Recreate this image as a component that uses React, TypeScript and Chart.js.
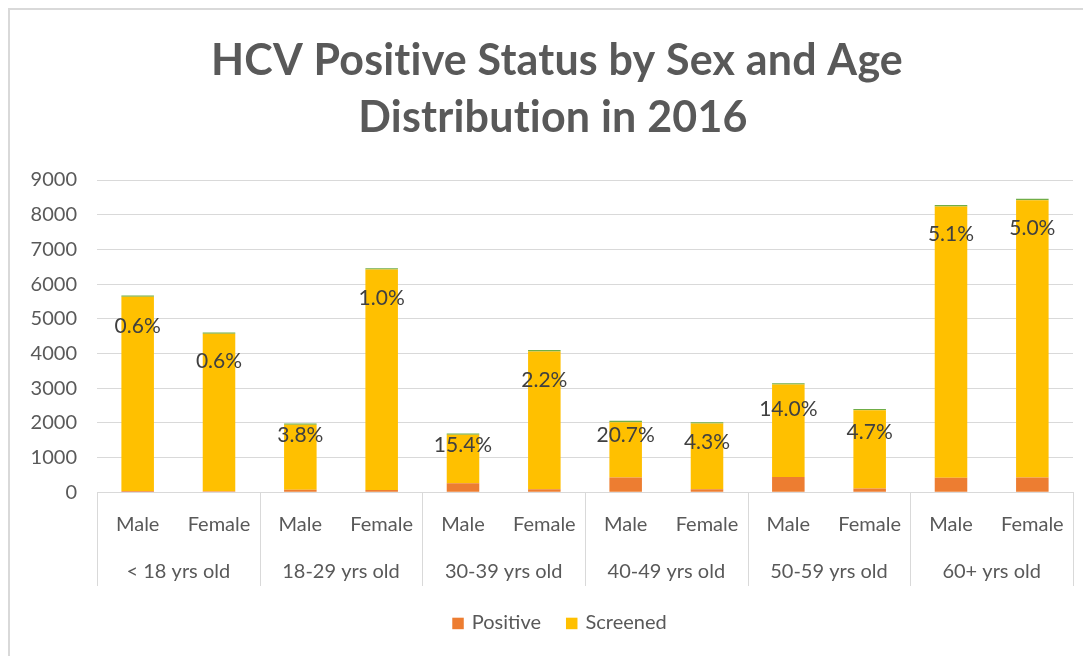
import React, { useEffect, useRef } from 'react';
import { Chart, registerables } from 'chart.js';

Chart.register(...registerables);

// ---------- data ----------
const titleLines = ['HCV Positive Status by Sex and Age', 'Distribution in 2016'];
const ageGroups = ['< 18 yrs old', '18-29 yrs old', '30-39 yrs old', '40-49 yrs old', '50-59 yrs old', '60+ yrs old'];
const sexLabels = ['Male', 'Female', 'Male', 'Female', 'Male', 'Female', 'Male', 'Female', 'Male', 'Female', 'Male', 'Female'];
const positive = [34, 28, 76, 65, 262, 90, 427, 87, 441, 113, 422, 423];
const screened = [5600, 4540, 1870, 6355, 1395, 3970, 1595, 1895, 2665, 2250, 7815, 7995];
const topMarker = [40, 40, 40, 40, 40, 40, 40, 40, 40, 40, 40, 40];
const percentLabels = ['0.6%', '0.6%', '3.8%', '1.0%', '15.4%', '2.2%', '20.7%', '4.3%', '14.0%', '4.7%', '5.1%', '5.0%'];
const labelAnchors = [4800, 3775, 1643, 5600, 1343, 3236, 1643, 1430, 2400, 1718, 7450, 7622];
const yMax = 9000;
const yStep = 1000;

const FONT = 'Lato';
const TEXT = '#595959';
const GRID = '#d9d9d9';

const noLigatures = (ctx: any) => {
  try { ctx.textRendering = 'optimizeSpeed'; } catch (e) { /* ignore */ }
  try { ctx.letterSpacing = '0.2px'; } catch (e) { /* ignore */ }
};

const overlayPlugin = {
  id: 'overlay',
  afterDatasetsDraw(chart: any) {
    const ctx = chart.ctx;
    const y = chart.scales.y;
    const meta = chart.getDatasetMeta(1);
    ctx.save();
    ctx.font = `21px ${FONT}`;
    ctx.fillStyle = '#404040';
    ctx.textAlign = 'center';
    ctx.textBaseline = 'middle';
    percentLabels.forEach((t, i) => {
      const el = meta.data[i];
      if (!el) return;
      ctx.fillText(t, el.x, y.getPixelForValue(labelAnchors[i]));
    });
    ctx.restore();
  },
  afterDraw(chart: any) {
    const ctx = chart.ctx;
    const area = chart.chartArea;
    const x = chart.scales.x;
    ctx.save();
    // group separators below the axis
    ctx.strokeStyle = GRID;
    ctx.lineWidth = 1;
    for (let g = 0; g <= ageGroups.length; g++) {
      const px = Math.round(x.getPixelForValue(g * 2 - 0.5)) + 0.5;
      ctx.beginPath();
      ctx.moveTo(px, area.bottom);
      ctx.lineTo(px, area.bottom + 93.7);
      ctx.stroke();
    }
    // group labels
    ctx.font = `20px ${FONT}`;
    ctx.fillStyle = TEXT;
    ctx.textAlign = 'center';
    ctx.textBaseline = 'alphabetic';
    ageGroups.forEach((g, i) => {
      ctx.fillText(g, x.getPixelForValue(i * 2 + 0.5), area.bottom + 85.7);
    });
    // title
    ctx.save();
    noLigatures(ctx);
    ctx.font = `bold 43px ${FONT}`;
    ctx.fillStyle = TEXT;
    ctx.fillText(titleLines[0], 547, 65, 692);
    ctx.fillText(titleLines[1], 543, 122, 395);
    ctx.restore();
    // legend
    const items = chart.data.datasets
      .filter((d: any) => d.showInLegend)
      .map((d: any) => ({ label: d.label, color: d.backgroundColor }));
    ctx.font = `20px ${FONT}`;
    const box = 11.5;
    const gapText = 8;
    const gapItem = 25;
    const widths = items.map((it: any) => box + gapText + ctx.measureText(it.label).width);
    const total = widths.reduce((a: number, b: number) => a + b, 0) + gapItem * (items.length - 1);
    let cx = 549.5 - total / 2;
    ctx.textAlign = 'left';
    items.forEach((it: any, i: number) => {
      ctx.fillStyle = it.color;
      ctx.fillRect(cx, 607.7, box, box);
      ctx.fillStyle = TEXT;
      ctx.fillText(it.label, cx + box + gapText, 619.3);
      cx += widths[i] + gapItem;
    });
    ctx.restore();
  },
};

export default function App() {
  const canvasRef = useRef<HTMLCanvasElement | null>(null);

  useEffect(() => {
    document.body.style.overflow = 'hidden';
    let chart: Chart | null = null;
    let cancelled = false;
    const make = () => {
      if (cancelled || !canvasRef.current) return;
      Chart.defaults.font.family = FONT;
      chart = new Chart(canvasRef.current, {
        type: 'bar',
        data: {
          labels: sexLabels,
          datasets: [
            { label: 'Positive', data: positive, backgroundColor: '#ED7D31', showInLegend: true } as any,
            { label: 'Screened', data: screened, backgroundColor: '#FFC000', showInLegend: true } as any,
            { label: 'Percent', data: topMarker, backgroundColor: '#70AD47', showInLegend: false } as any,
          ],
        },
        options: {
          responsive: false,
          animation: false,
          devicePixelRatio: 1,
          layout: { padding: { top: 170, right: 27, bottom: 0, left: 0 } },
          datasets: { bar: { barPercentage: 0.4, categoryPercentage: 1.0, borderWidth: 0 } },
          plugins: {
            legend: { display: false },
            title: { display: false },
            tooltip: { enabled: false },
          },
          scales: {
            x: {
              stacked: true,
              grid: { display: false, drawTicks: false },
              border: { display: true, color: GRID, width: 1 },
              ticks: { color: TEXT, font: { size: 20, family: FONT }, padding: 20, maxRotation: 0, autoSkip: false },
              afterFit: (s: any) => { s.height = 163.7; },
            },
            y: {
              stacked: true,
              min: 0,
              max: yMax,
              grid: { color: GRID, drawTicks: false },
              border: { display: false },
              ticks: {
                stepSize: yStep,
                color: TEXT,
                font: { size: 20, family: FONT },
                padding: 20,
                callback: (v: any) => String(v),
              },
              afterFit: (s: any) => { s.width = 87; },
            },
          },
        },
        plugins: [overlayPlugin],
      });
    };
    const fontsApi: any = (document as any).fonts;
    if (fontsApi && fontsApi.load) {
      Promise.all([fontsApi.load(`20px ${FONT}`), fontsApi.load(`bold 43px ${FONT}`)])
        .catch(() => null)
        .then(make);
    } else {
      make();
    }
    return () => {
      cancelled = true;
      if (chart) chart.destroy();
    };
  }, []);

  return (
    <div style={{ position: 'relative', width: 1120, height: 700, border: '2px solid #d9d9d9' }}>
      <canvas ref={canvasRef} width={1090} height={646} style={{ display: 'block', width: 1090, height: 646 }} />
    </div>
  );
}
